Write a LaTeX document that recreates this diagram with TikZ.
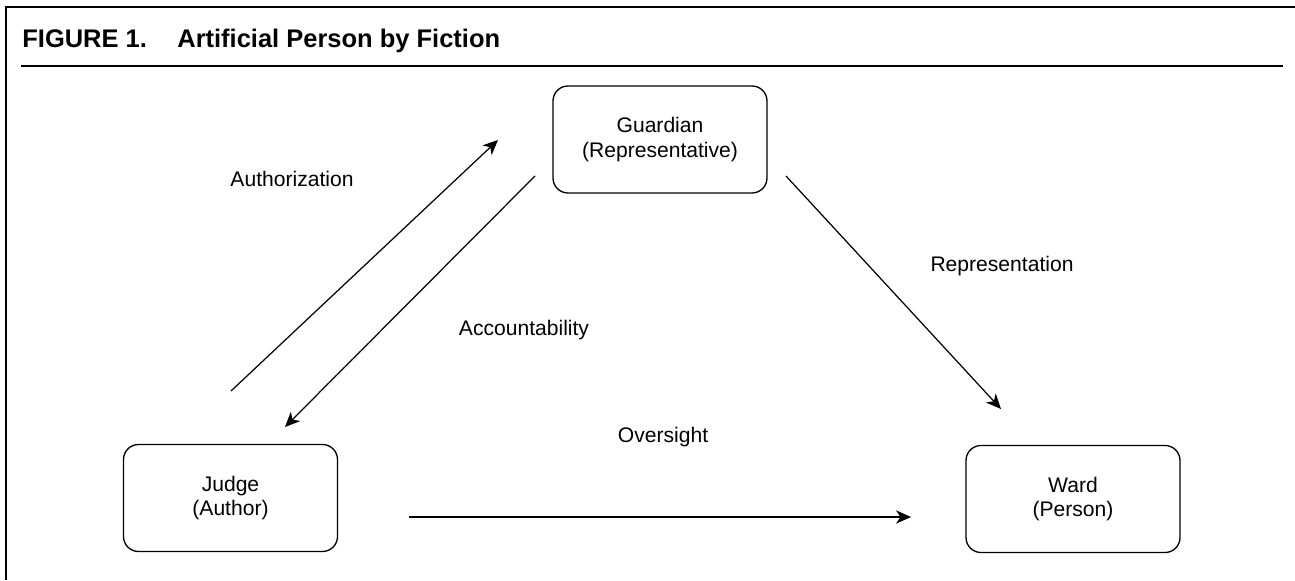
\documentclass[tikz,border=0pt]{standalone}
\usepackage{fontspec}
\setmainfont{Liberation Sans}
\usetikzlibrary{arrows.meta}

\begin{document}
\begin{tikzpicture}[box/.style={draw, line width=0.75pt, rounded corners=0.3cm, minimum width=4.28cm, minimum height=2.14cm, align=center, font=\fontsize{12}{14}\selectfont}, lbl/.style={anchor=base, font=\fontsize{12}{14}\selectfont}, link/.style={line width=0.7pt, -{Stealth[length=8.5pt, width=7.5pt, inset=2.5pt]}}]
  \useasboundingbox (0,0) rectangle (25.9,11.6);
  \draw[line width=0.04cm] (0.12,0) -- (0.12,11.46) -- (25.9,11.46);
  \draw[line width=0.04cm] (0.42,10.27) -- (25.66,10.27);
  \node[anchor=base west, inner sep=0pt, font=\fontsize{14.5}{16}\selectfont\bfseries] (fignum) at (0.44,10.64) {FIGURE 1.};
  \node[anchor=base west, inner sep=0pt, font=\fontsize{14.5}{16}\selectfont\bfseries] (figtitle) at (3.54,10.64) {Artificial Person by Fiction};
  \node[box] (guardian) at (13.2,8.81) {Guardian\\(Representative)};
  \node[box] (judge) at (4.61,1.64) {Judge\\(Author)};
  \node[box] (ward) at (21.46,1.62) {Ward\\(Person)};
  \coordinate (auth0) at (4.62,3.78);
  \coordinate (auth1) at (9.96,8.80);
  \coordinate (acc0) at (10.70,8.08);
  \coordinate (acc1) at (5.70,3.06);
  \coordinate (rep0) at (15.72,8.08);
  \coordinate (rep1) at (20.02,3.42);
  \coordinate (ovr0) at (8.18,1.26);
  \coordinate (ovr1) at (18.22,1.26);
  \draw[link] (auth0) -- (auth1);
  \draw[link] (acc0) -- (acc1);
  \draw[link] (rep0) -- (rep1);
  \draw[link] (ovr0) -- (ovr1);
  \node[lbl] (authlbl) at (5.84,7.86) {Authorization};
  \node[lbl] (acclbl) at (10.48,4.88) {Accountability};
  \node[lbl] (replbl) at (20.04,6.16) {Representation};
  \node[lbl] (ovrlbl) at (13.26,2.76) {Oversight};
\end{tikzpicture}
\end{document}
